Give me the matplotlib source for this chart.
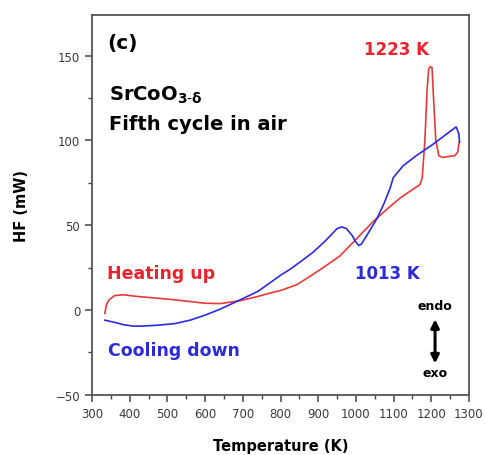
import matplotlib
matplotlib.use("Agg")
import matplotlib.pyplot as plt
from matplotlib.ticker import MultipleLocator

# heating run (K, mW)
heat_T = [334, 338, 345, 360, 382, 420, 472, 520, 560, 600, 640, 693, 740, 772,
          800, 825, 844, 886, 920, 958, 993, 1045, 1080, 1117, 1150, 1170, 1176,
          1183, 1189, 1193, 1197, 1202, 1206, 1212, 1220, 1230, 1245, 1262,
          1270, 1274]
heat_HF = [-2, 3, 6, 8.5, 9, 8, 7, 6, 5, 4, 3.8, 5.5, 8, 10, 11.5, 13.5, 15,
           21, 26, 32, 40, 52, 59, 66, 71, 74, 78, 100, 130, 142, 143.5, 143,
           125, 100, 91, 90, 90.5, 91, 93, 99]

# cooling run (K, mW)
cool_T = [1275, 1273, 1266, 1230, 1200, 1160, 1125, 1099, 1091, 1075, 1056,
          1029, 1015, 1008, 1000, 990, 975, 963, 950, 920, 886, 850, 825, 800,
          772, 740, 693, 640, 600, 560, 520, 472, 430, 409, 380, 366, 350, 334]
cool_HF = [99, 104, 108, 102, 97, 91, 85, 78, 72, 63, 54, 44, 39, 38, 40, 44,
           48, 49, 48, 41, 34, 28, 24, 20.5, 16, 11, 6, 0.5, -3, -6, -8, -9,
           -9.5, -9.5, -8.5, -7.6, -6.8, -6]

red = "#e8252e"
blue = "#2b2bdc"

fig = plt.figure(figsize=(4.87, 4.56), dpi=100)
ax = fig.add_axes([0.189, 0.132, 0.774, 0.833])

ax.plot(heat_T, heat_HF, color="#e63a3a", lw=1.2)
ax.plot(cool_T, cool_HF, color=blue, lw=1.2)

ax.set_xlim(300, 1300)
ax.set_ylim(-50, 174)
ax.xaxis.set_major_locator(MultipleLocator(100))
ax.xaxis.set_minor_locator(MultipleLocator(50))
ax.yaxis.set_major_locator(MultipleLocator(50))
ax.yaxis.set_minor_locator(MultipleLocator(25))
ax.tick_params(which="both", direction="out", colors="#444444", labelcolor="#3a3a3a")
ax.tick_params(which="major", length=5, width=1.1, labelsize=8.5)
ax.tick_params(which="minor", length=3, width=1.0)
for s in ax.spines.values():
    s.set_color("#555555")
    s.set_linewidth(1.3)

ax.set_xlabel("Temperature (K)", fontsize=10.5, fontweight="bold", labelpad=13)
ax.set_ylabel("HF (mW)", fontsize=10.5, fontweight="bold", labelpad=19)

plt.rcParams["mathtext.default"] = "bf"
ax.text(340, 157.5, "(c)", fontsize=14.5, fontweight="bold", va="center")
ax.text(345, 127, r"SrCoO$_{3\text{-}δ}$", fontsize=14, fontweight="bold", va="center")
ax.text(345, 110, "Fifth cycle in air", fontsize=14, fontweight="bold", va="center")
ax.text(1021, 154, "1223 K", fontsize=12, fontweight="bold", color=red, va="center")
ax.text(340, 22, "Heating up", fontsize=12.5, fontweight="bold", color=red, va="center")
ax.text(342, -23.6, "Cooling down", fontsize=12.5, fontweight="bold", color=blue, va="center")
ax.text(998, 22, "1013 K", fontsize=12, fontweight="bold", color=blue, va="center")
ax.text(1210, 2.4, "endo", fontsize=9, fontweight="bold", ha="center", va="center")
ax.text(1210, -37, "exo", fontsize=9, fontweight="bold", ha="center", va="center")
ax.annotate("", xy=(1210, -31.5), xytext=(1210, -5.5),
            arrowprops=dict(arrowstyle="<|-|>", color="black", lw=2.2,
                            mutation_scale=12, shrinkA=0, shrinkB=0))

fig.savefig("out.png", dpi=100)
